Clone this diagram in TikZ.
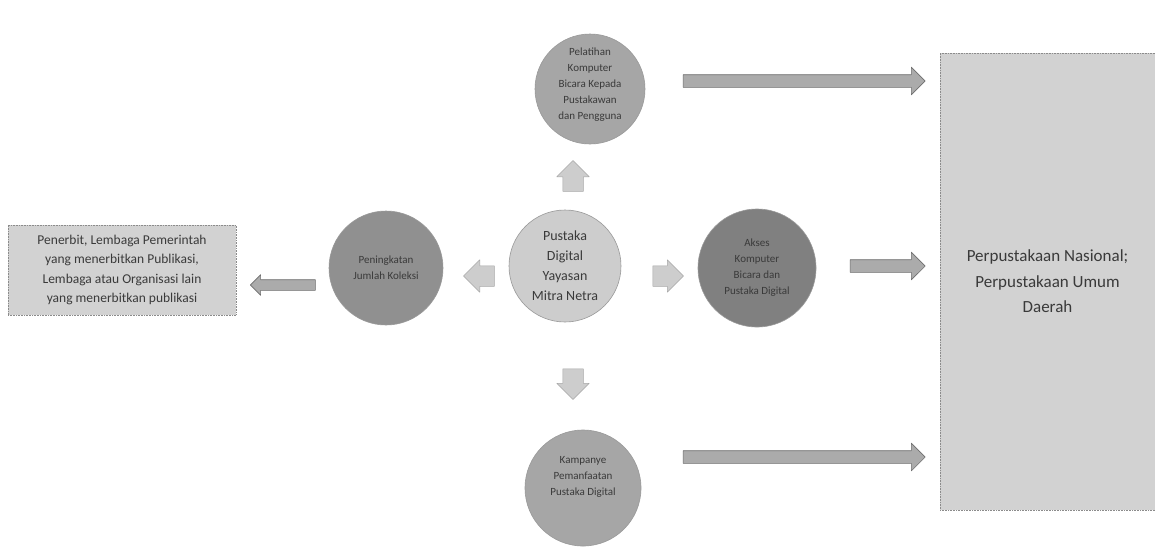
\documentclass[tikz,border=0pt]{standalone}
\usepackage{fontspec}
\setmainfont{Carlito}
\usetikzlibrary{shapes.arrows,positioning}
\definecolor{mnPale}{HTML}{CDCDCD}
\definecolor{mnLight}{HTML}{D2D2D2}
\definecolor{mnMid}{HTML}{A6A6A6}
\definecolor{mnDark}{HTML}{909090}
\definecolor{mnDeep}{HTML}{808080}
\definecolor{mnArrow}{HTML}{ABABAB}
\definecolor{mnLine}{HTML}{6E6E6E}
\definecolor{mnInk}{HTML}{3A3A3A}

\begin{document}
\begin{tikzpicture}[x=1pt,y=-1pt,line join=round]
\useasboundingbox[fill=white] (0,0) rectangle (1155,547);
\tikzset{bubble/.style={circle,draw=mnLine!70,line width=0.6pt,minimum size=112pt,inner sep=1pt,align=center,text=mnInk,font=\fontsize{11}{16}\selectfont},
  panel/.style={rectangle,draw=mnLine!80,line width=0.6pt,densely dotted,fill=mnLight,align=center,text=mnInk},
  bigarrow/.style={single arrow,draw=mnLine,line width=0.6pt,fill=mnArrow,inner sep=6pt,single arrow head extend=7.5pt},
  tinyarrow/.style={single arrow,draw=mnLine!60,line width=0.5pt,fill=mnPale,inner sep=10pt,single arrow head extend=6pt,minimum height=28pt}}
% lingkaran
\node[bubble,fill=mnPale,font=\fontsize{14}{20}\selectfont] (pusat) at (565,266) {Pustaka\\Digital\\Yayasan\\Mitra Netra};
\node[bubble,fill=mnMid,minimum size=110pt] (latih) at (590,89) {Pelatihan\\Komputer\\Bicara Kepada\\Pustakawan\\dan Pengguna\\[-6pt]};
\node[bubble,fill=mnDark,minimum size=114pt] (koleksi) at (386,268) {Peningkatan\\Jumlah Koleksi};
\node[bubble,fill=mnDeep,minimum size=118pt] (akses) at (757,268) {Akses\\Komputer\\Bicara dan\\Pustaka Digital};
\node[bubble,fill=mnMid,minimum size=116pt] (kampanye) at (583,488) {Kampanye\\Pemanfaatan\\Pustaka Digital\\[8pt]};
% kotak
\node[panel,minimum width=228pt,minimum height=90pt,font=\fontsize{13.5}{19.5}\selectfont] (penerbit) at (122,270) {Penerbit, Lembaga Pemerintah\\yang menerbitkan Publikasi,\\Lembaga atau Organisasi lain\\yang menerbitkan publikasi};
\node[panel,minimum width=215pt,minimum height=457pt,font=\fontsize{17}{25.5}\selectfont] (perpus) at (1047.5,281.5) {Perpustakaan Nasional;\\Perpustakaan Umum\\Daerah};
% panah kecil
\node[tinyarrow,shape border rotate=90] (naik) at (573,181) {};
\node[tinyarrow,shape border rotate=180] (kiri) at (484,276) {};
\node[tinyarrow] (kanan) at (663,276) {};
\node[tinyarrow,shape border rotate=270] (turun) at (573,379) {};
% panah besar
\node[bigarrow,minimum height=242pt] (alirA) at (801,81) {};
\node[bigarrow,minimum height=75pt] (alirB) at (884.5,266) {};
\node[bigarrow,minimum height=242pt] (alirC) at (801,457) {};
\node[bigarrow,inner sep=5pt,single arrow head extend=5pt,minimum height=65pt,shape border rotate=180] (alirD) at (285.5,285) {};
\end{tikzpicture}
\end{document}
